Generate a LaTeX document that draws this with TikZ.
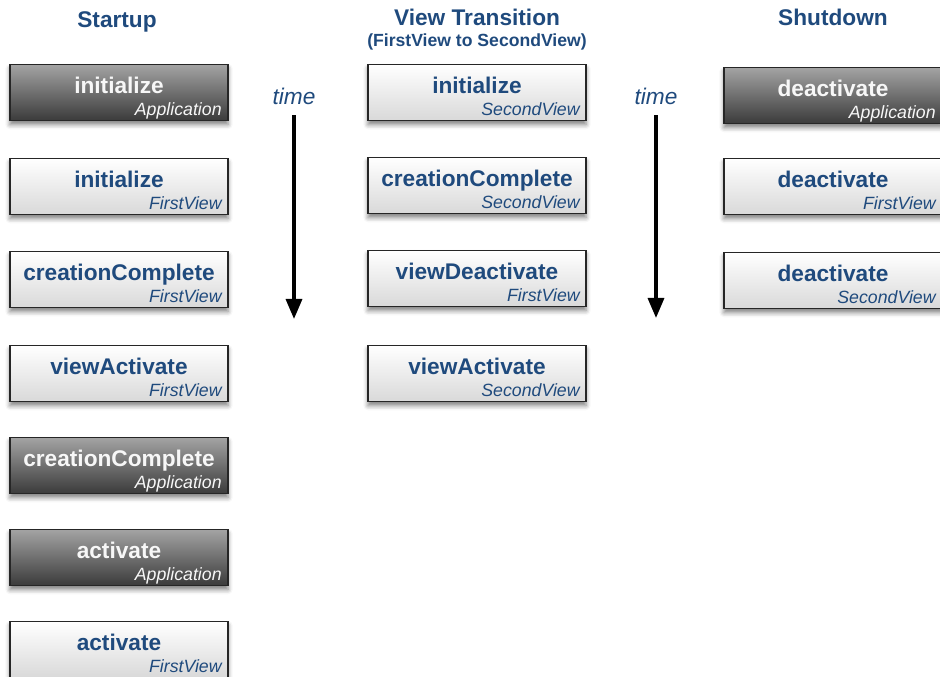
\documentclass[tikz,border=0pt]{standalone}
\usepackage{fontspec}
\setmainfont{Liberation Sans}
\usetikzlibrary{arrows.meta,shadows.blur}

\definecolor{evblue}{RGB}{31,74,125}

\tikzset{
  evbox/.style={draw=black!85,line width=0.9pt,anchor=north,inner sep=0pt,
    minimum width=163.5pt,minimum height=42pt,text height=22pt,text depth=20pt,
    font=\bfseries\fontsize{17}{17}\selectfont,
    blur shadow={shadow xshift=0pt,shadow yshift=-3pt,shadow blur radius=3.5pt,shadow opacity=50}},
  viewev/.style={evbox,top color=white,bottom color=black!15,text=evblue},
  appev/.style={evbox,top color=black!36,bottom color=black!77,text=black!3},
  subtxt/.style={anchor=base east,inner sep=0pt,font=\itshape\fontsize{13.3}{13.3}\selectfont},
  viewev sub/.style={subtxt,text=evblue},
  appev sub/.style={subtxt,text=black!3},
  head/.style={anchor=base,inner sep=0pt,text=evblue,font=\bfseries\fontsize{17}{17}\selectfont},
  subhead/.style={anchor=base,inner sep=0pt,text=evblue,font=\bfseries\fontsize{13.2}{13.2}\selectfont},
  timetxt/.style={anchor=base,inner sep=0pt,text=evblue,font=\itshape\fontsize{17}{17}\selectfont},
  timearrow/.style={line width=2.5pt,shorten <=7.5pt,-{Triangle[width=12pt,length=15pt]}}
}

\begin{document}
\begin{tikzpicture}[x=0.75pt,y=-0.75pt]
\useasboundingbox (0,0) rectangle (940,677);

% headings
\node[head]    (hstart) at (117,28) {Startup};
\node[head]    (hview)  at (477,26) {View Transition};
\node[subhead] (hviewb) at (477,47) {(FirstView to SecondView)};
\node[head]    (hshut)  at (833,26) {Shutdown};

% startup
\foreach \n/\y/\kind/\main/\sub in {s1/64/appev/initialize/Application,
    s2/158/viewev/initialize/FirstView,s3/251/viewev/creationComplete/FirstView,
    s4/345/viewev/viewActivate/FirstView,s5/437/appev/creationComplete/Application,
    s6/529/appev/activate/Application,s7/621/viewev/activate/FirstView}{
  \node[\kind] (\n) at (119,\y) {\main};
  \node[\kind\space sub] (\n-sub) at ([xshift=-5pt,yshift=4.6pt]\n.south east) {\sub};
}

% view transition
\foreach \n/\y/\kind/\main/\sub in {v1/64/viewev/initialize/SecondView,
    v2/157/viewev/creationComplete/SecondView,v3/250/viewev/viewDeactivate/FirstView,
    v4/345/viewev/viewActivate/SecondView}{
  \node[\kind] (\n) at (477,\y) {\main};
  \node[\kind\space sub] (\n-sub) at ([xshift=-5pt,yshift=4.6pt]\n.south east) {\sub};
}

% shutdown
\foreach \n/\y/\kind/\main/\sub in {d1/67/appev/deactivate/Application,
    d2/158/viewev/deactivate/FirstView,d3/252/viewev/deactivate/SecondView}{
  \node[\kind] (\n) at (833,\y) {\main};
  \node[\kind\space sub] (\n-sub) at ([xshift=-5pt,yshift=4.6pt]\n.south east) {\sub};
}

% time arrows
\node[timetxt] (time1) at (294,105) {time};
\coordinate (tip1) at (294,319);
\draw[timearrow] (time1) -- (tip1);
\node[timetxt] (time2) at (656,105) {time};
\coordinate (tip2) at (656,318);
\draw[timearrow] (time2) -- (tip2);

\end{tikzpicture}
\end{document}
